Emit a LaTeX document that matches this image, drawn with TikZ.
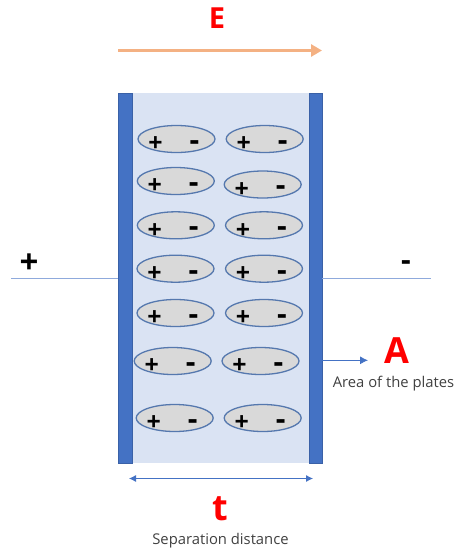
\documentclass[tikz,border=0pt]{standalone}
\usepackage{fontspec}
\setmainfont{Open Sans}
\usetikzlibrary{shapes.geometric,arrows.meta}
\definecolor{plateblue}{HTML}{4472C4}
\definecolor{dielec}{HTML}{DAE3F3}
\definecolor{wire}{HTML}{8FAADC}
\definecolor{ring}{HTML}{5578AE}
\definecolor{fieldc}{HTML}{F4B183}
\tikzset{
  plate/.style={draw=plateblue!85!black,line width=.5pt,fill=plateblue,minimum width=14pt,minimum height=370pt,inner sep=0pt},
  gap/.style={fill=dielec,minimum width=177pt,minimum height=370pt,inner sep=0pt},
  dipole/.style={ellipse,draw=ring,line width=1.3pt,fill=black!15,minimum width=77pt,minimum height=27pt,inner sep=0pt},
  charge/.style={font=\fontsize{25}{25}\selectfont\bfseries,text=black,inner sep=0pt},
  dash charge/.style={font=\fontsize{30}{30}\selectfont\bfseries,text=black,inner sep=0pt},
  bigcharge/.style={font=\fontsize{33}{33}\selectfont\bfseries,text=black,inner sep=0pt},
  redlabel/.style={text=red,font=\fontsize{29}{29}\selectfont\bfseries,inner sep=0pt},
  caption/.style={text=black!75,font=\fontsize{14.8}{17}\selectfont,inner sep=0pt},
  wireline/.style={draw=wire,line width=.9pt},
  thinarrow/.style={draw=plateblue,line width=.8pt,-{Latex[length=8pt,width=8pt]}},
  twoarrow/.style={draw=plateblue,line width=.8pt,{Latex[length=7pt,width=7pt]}-{Latex[length=7pt,width=7pt]}}
}
\begin{document}
\begin{tikzpicture}[x=1pt,y=-1pt]
\useasboundingbox (0,0) rectangle (457,552);
\node[gap] (die) at (220.5,278) {};
\node[plate] (lp) at (125,278) {};
\node[plate,minimum width=13pt] (rp) at (315.5,278) {};
\foreach \n/\x/\y in {a1/176.5/139,a2/175.8/181,a3/175.8/225.3,a4/175.5/268.7,a5/175.5/313,a6/172.7/361,a7/174.7/418,
                      b1/264.7/139,b2/262.7/184.5,b3/264/225.3,b4/264/268.7,b5/264/313,b6/260.5/361,b7/262.7/418}{
  \node[dipole] (\n) at (\x,\y) {};
  \node[charge] (\n p) at (\x-21,\y+5.5) {+};
  \node[dash charge] (\n m) at (\x+18,\y+6.5) {-};
}
\coordinate (e1) at (118,50.5);
\coordinate (e2) at (322,50.5);
\draw[draw=fieldc,line width=3.6pt,-{Triangle[length=11pt,width=12pt]}] (e1) -- (e2);
\node[redlabel] (elab) at (217,18) {E};
\coordinate (wl) at (11,278.5);
\coordinate (wr) at (431,278.5);
\draw[wireline] (wl) -- (wl -| lp.west);
\draw[wireline] (wr -| rp.east) -- (wr);
\node[bigcharge] (plus) at (29,264) {+};
\node[dash charge] (minus) at (406,266) {-};
\coordinate (a0) at (368,360.3);
\draw[thinarrow] (a0 -| rp.east) -- (a0);
\node[redlabel,font=\fontsize{36}{36}\selectfont\bfseries] (alab) at (397,351) {A};
\node[caption] (acap) at (393.5,383.5) {Area of the plates};
\coordinate (t1) at (129,478.5);
\coordinate (t2) at (313,478.5);
\draw[twoarrow] (t1) -- (t2);
\node[redlabel,font=\fontsize{36}{36}\selectfont\bfseries] (tlab) at (220,509) {t};
\node[caption] (tcap) at (220.5,541) {Separation distance};
\end{tikzpicture}
\end{document}
